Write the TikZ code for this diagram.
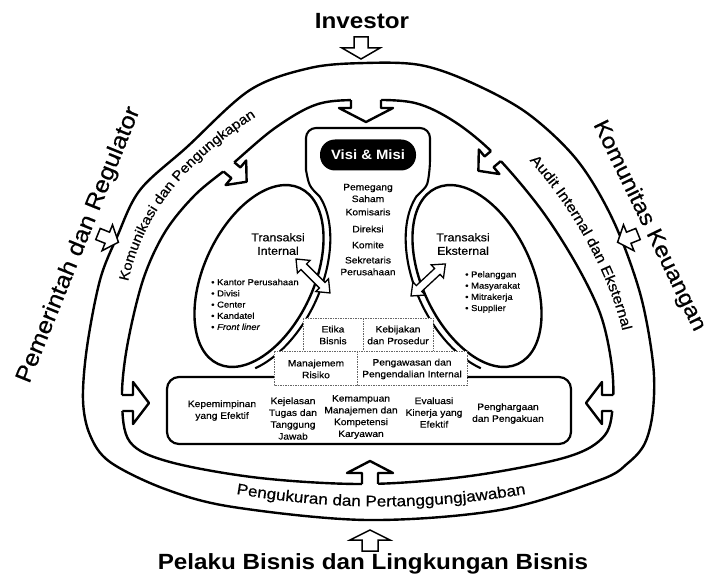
\documentclass[tikz,border=0pt]{standalone}
\usepackage{fontspec}
\setmainfont{Liberation Sans}[FakeStretch=1.1, UprightFeatures={FakeBold=0.5}, ItalicFeatures={FakeBold=0.5}]
\usetikzlibrary{decorations.text}
\newcommand\fsz[2]{\fontsize{#1}{#2}\selectfont}

% outer and inner edge of the surrounding ring
\def\ringouter{plot[smooth cycle, tension=0.55] coordinates {(365,63) (420,65) (470,82) (527,113) (577,160) (613,220) (640,293) (653,363) (653,410) (645,443) (628,463) (600,480) (500,510) (367,520) (233,507) (165,489) (110,462) (90,435) (83,400) (87,347) (100,280) (117,237) (140,190) (187,147) (250,90) (310,68)}}
\def\ringinner{plot[smooth cycle, tension=0.55] coordinates {(365,100) (415,103) (455,122) (495,155) (540,208) (575,262) (600,313) (611,360) (613,400) (605,435) (567,457) (470,476) (367,484) (260,478) (170,462) (130,442) (122,400) (127,347) (143,280) (165,232) (195,195) (230,166) (275,128) (318,104)}}

% hollow arrow leaving the ring: base point, direction, shaft half width, shaft length, head half width, head length
\newcommand\ringarrowfill[6]{\fill[white, shift={#1}, rotate=#2] (-10,#3) -- (#4,#3) -- (#4,#5) -- ({#4+#6},0) -- (#4,-#5) -- (#4,-#3) -- (-10,-#3) -- cycle;}
\newcommand\ringarrowline[6]{\draw[ringline, shift={#1}, rotate=#2] (-10,#3) -- (#4,#3) -- (#4,#5) -- ({#4+#6},0) -- (#4,-#5) -- (#4,-#3) -- (-10,-#3);}
% free standing hollow arrow: tail point, direction, shaft half width, shaft length, head half width, head length
\newcommand\hollowarrow[6]{\filldraw[outerarrow, shift={#1}, rotate=#2] (0,#3) -- (#4,#3) -- (#4,#5) -- ({#4+#6},0) -- (#4,-#5) -- (#4,-#3) -- (0,-#3) -- cycle;}
% hollow double arrow: one tip, direction, length
\newcommand\dblarrow[3]{\filldraw[dblarrow, shift={#1}, rotate=#2] (0,0) -- (11,9) -- (11,4) -- ({#3-11},4) -- ({#3-11},9) -- (#3,0) -- ({#3-11},-9) -- ({#3-11},-4) -- (11,-4) -- (11,-9) -- cycle;}

\begin{document}
\begin{tikzpicture}[x=1pt, y=-1pt,
  ringline/.style={line width=2.4pt, line join=round},
  outerarrow/.style={draw=black, fill=white, line width=1.5pt, line join=miter},
  dblarrow/.style={draw=black, fill=white, line width=1.3pt},
  ellipseline/.style={line width=2.4pt},
  colline/.style={line width=2.1pt},
  dbox/.style={draw=black!60, line width=0.7pt, dash pattern=on 1.5pt off 1pt, fill=white},
  small/.style={font=\fsz{9.3}{11.8}, align=center, inner sep=0pt},
  tiny/.style={font=\fsz{8.6}{11.2}, align=left, inner sep=0pt},
  mid/.style={font=\fsz{11.3}{13.5}, align=center, inner sep=0pt},
  big/.style={font=\fsz{22}{24}\bfseries, inner sep=0pt},
  side/.style={font=\fsz{23}{25}, inner sep=0pt}]
\useasboundingbox (0,0) rectangle (709,577);
\fill[white] (0,0) rectangle (709,577);

% ring
\draw[ringline] \ringouter;
\draw[ringline] \ringinner;

% arrows from the ring towards the organisation
\ringarrowfill{(366,100)}{-90}{15}{8}{27}{14}
\ringarrowfill{(229,167)}{-40}{7}{9}{16}{14}
\ringarrowfill{(496,156)}{-140}{7}{9}{16}{14}
\ringarrowfill{(122,403)}{0}{8}{11}{21}{16}
\ringarrowfill{(613,403)}{180}{8}{11}{21}{16}
\ringarrowfill{(370,484)}{90}{8}{11}{23}{12}
\begin{scope}
  \clip \ringinner;
  \ringarrowline{(366,100)}{-90}{15}{8}{27}{14}
  \ringarrowline{(229,167)}{-40}{7}{9}{16}{14}
  \ringarrowline{(496,156)}{-140}{7}{9}{16}{14}
  \ringarrowline{(122,403)}{0}{8}{11}{21}{16}
  \ringarrowline{(613,403)}{180}{8}{11}{21}{16}
  \ringarrowline{(370,484)}{90}{8}{11}{23}{12}
\end{scope}

% arrows from the outside parties
\hollowarrow{(361,37)}{-90}{7}{11}{19}{11}
\hollowarrow{(370,551)}{90}{8}{11}{20}{10}
\hollowarrow{(98,234)}{-22}{6}{10}{14}{12}
\hollowarrow{(638,234)}{-158}{6}{10}{14}{12}

% transaction ellipses
\draw[ellipseline, rotate around={65:(259,276)}] (259,276) ellipse [x radius=97pt, y radius=55pt];
\draw[ellipseline, rotate around={-65:(477,276)}] (477,276) ellipse [x radius=97pt, y radius=55pt];

% central column with the top box
\draw[colline]
  plot[domain=-145:-20, samples=60, variable=\t]
    ({259 + 104*cos(\t)*0.4226 - 62*sin(\t)*0.9063}, {276 - 104*cos(\t)*0.9063 - 62*sin(\t)*0.4226})
  .. controls (309,186) .. (306,170)
  [rounded corners=10pt] -- (306,128) -- (430,128) -- (430,170) [sharp corners]
  .. controls (427,186) .. (416.5,196.4)
  -- plot[domain=20:145, samples=60, variable=\s]
    ({477 - 104*cos(\s)*0.4226 - 62*sin(\s)*0.9063}, {276 - 104*cos(\s)*0.9063 + 62*sin(\s)*0.4226});

\node[fill=black, rounded corners=15pt, minimum width=96pt, minimum height=31pt, inner sep=0pt,
      text=white, font=\fsz{13.5}{15}\bfseries] (visi) at (368,155) {Visi \& Misi};

% links between the ellipses and the column
\dblarrow{(296,259)}{-45}{48}
\dblarrow{(411,296)}{43}{47}

% lower box
\draw[line width=2.2pt, rounded corners=12pt] (167,377) rectangle (571,444);

% governance boxes
\draw[dbox] (303,318) rectangle (363,351);
\draw[dbox] (363,318) rectangle (433,351);
\draw[dbox] (274,351) rectangle (357,385);
\draw[dbox] (357,351) rectangle (467,385);
\node[small] (etika) at (333,335) {Etika\\Bisnis};
\node[small] (kebijakan) at (398,335) {Kebijakan\\dan Prosedur};
\node[small] (risiko) at (316,369) {Manajemem\\Risiko};
\node[small] (pengawasan) at (412,369) {Pengawasan dan\\Pengendalian Internal};

% central column text
\node[small] (pemegang) at (368,193) {Pemegang\\Saham};
\node[small] (komisaris) at (368,212) {Komisaris};
\node[small] (direksi) at (368,229) {Direksi};
\node[small] (komite) at (368,245) {Komite};
\node[small] (sekretaris) at (368,266) {Sekretaris\\Perusahaan};

% ellipse text
\node[mid] (tint) at (278,244) {Transaksi\\Internal};
\node[mid] (teks) at (463,244) {Transaksi\\Eksternal};
\node[tiny, anchor=west] (listint) at (211,304.5) {\textbullet\ Kantor Perusahaan\\\textbullet\ Divisi\\\textbullet\ Center\\\textbullet\ Kandatel\\\textbullet\ \textit{Front liner}};
\node[tiny, anchor=west] (listeks) at (465,292) {\textbullet\ Pelanggan\\\textbullet\ Masyarakat\\\textbullet\ Mitrakerja\\\textbullet\ Supplier};

% lower box text
\node[small] (kep) at (222,410.5) {Kepemimpinan\\yang Efektif};
\node[small] (kej) at (293,418.5) {Kejelasan\\Tugas dan\\Tanggung\\Jawab};
\node[small] (kem) at (361,417) {Kemampuan\\Manajemen dan\\Kompetensi\\Karyawan};
\node[small] (eva) at (434,412.5) {Evaluasi\\Kinerja yang\\Efektif};
\node[small] (phg) at (508,413.5) {Penghargaan\\dan Pengakuan};

% text inside the ring
\path[decorate, decoration={text along path, text align=center,
  text={|\fsz{13.8}{14}|Komunikasi dan Pengungkapan}}]
  (126,292) .. controls (140,215) and (185,160) .. (265,111);
\path[decorate, decoration={text along path, text align=center,
  text={|\fsz{14.5}{15}|Audit Internal dan Eksternal}}]
  (507,138) .. controls (565,190) and (620,285) .. (628,362);
\path[decorate, decoration={text along path, text align=center,
  text={|\fsz{15.5}{16}|Pengukuran dan Pertanggungjawaban}}]
  (214,490) .. controls (330,512) and (432,512) .. (548,490);

% outside parties
\node[big] (investor) at (362,21) {Investor};
\node[big] (pelaku) at (373,564) {Pelaku Bisnis dan Lingkungan Bisnis};
\node[side, rotate=68] (pemerintah) at (79,245) {Pemerintah dan Regulator};
\node[side, rotate=-64, font=\fsz{22}{24}] (komunitas) at (649,226) {Komunitas Keuangan};
\end{tikzpicture}
\end{document}
